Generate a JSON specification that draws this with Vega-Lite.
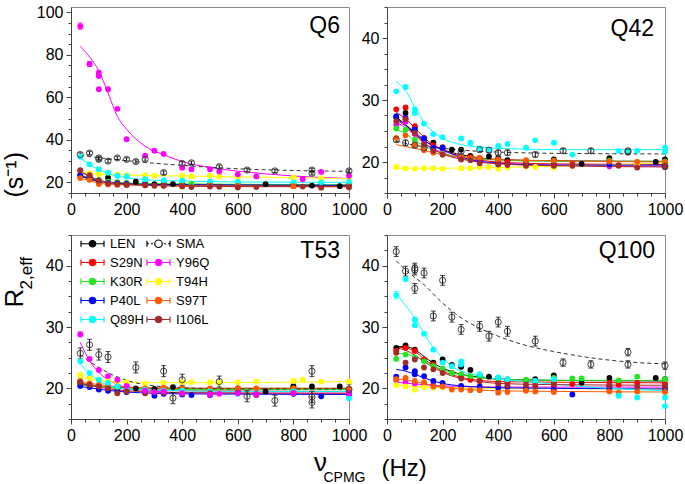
{
"$schema": "https://vega.github.io/schema/vega-lite/v6.json",
"padding": {"left": 0, "top": 3, "right": 2, "bottom": 0},
"background": "white",
"config": {
 "view": {"stroke": "#8a8a8a", "strokeWidth": 1},
 "axis": {"grid": false, "labelFont": "Liberation Sans", "labelFontSize": 16, "labelColor": "#000", "titleFont": "Liberation Sans", "titleFontWeight": "normal", "titleColor": "#000", "domainColor": "#444", "tickColor": "#444", "labelFlush": false, "labelPadding": 3, "labelOverlap": false, "format": "d"},
 "title": {"font": "Liberation Sans", "fontWeight": "normal", "color": "#000", "fontSize": 23, "anchor": "end", "orient": "top", "frame": "group", "baseline": "alphabetic", "offset": 0}
},
"datasets": {
"pts": [
{"p":"Q6","s":"LEN","x":33.3,"y":23.5},{"p":"Q6","s":"LEN","x":66.7,"y":22.5},{"p":"Q6","s":"LEN","x":100,"y":21},{"p":"Q6","s":"LEN","x":133.3,"y":22.2},{"p":"Q6","s":"LEN","x":166.7,"y":20},{"p":"Q6","s":"LEN","x":200,"y":19.5},{"p":"Q6","s":"LEN","x":233.3,"y":20.3},{"p":"Q6","s":"LEN","x":266.7,"y":19.3},{"p":"Q6","s":"LEN","x":300,"y":19.2},{"p":"Q6","s":"LEN","x":333.3,"y":19.3},{"p":"Q6","s":"LEN","x":366.7,"y":19.2},{"p":"Q6","s":"LEN","x":400,"y":19},{"p":"Q6","s":"LEN","x":500,"y":18.8},{"p":"Q6","s":"LEN","x":600,"y":18.6},{"p":"Q6","s":"LEN","x":700,"y":19.2},{"p":"Q6","s":"LEN","x":800,"y":19.1},{"p":"Q6","s":"LEN","x":866.7,"y":18.5},{"p":"Q6","s":"LEN","x":966.7,"y":18.2},{"p":"Q6","s":"LEN","x":1000,"y":18.8},
{"p":"Q6","s":"S29N","x":33.3,"y":25.4},{"p":"Q6","s":"S29N","x":66.7,"y":23.1},{"p":"Q6","s":"S29N","x":100,"y":20.5},{"p":"Q6","s":"S29N","x":133.3,"y":20},{"p":"Q6","s":"S29N","x":166.7,"y":19.5},{"p":"Q6","s":"S29N","x":200,"y":19.3},{"p":"Q6","s":"S29N","x":266.7,"y":19},{"p":"Q6","s":"S29N","x":333.3,"y":18.7},{"p":"Q6","s":"S29N","x":400,"y":18.5},{"p":"Q6","s":"S29N","x":500,"y":18.4},{"p":"Q6","s":"S29N","x":600,"y":18.3},{"p":"Q6","s":"S29N","x":800,"y":18.2},{"p":"Q6","s":"S29N","x":1000,"y":18.2},
{"p":"Q6","s":"K30R","x":33.3,"y":23.8},{"p":"Q6","s":"K30R","x":66.7,"y":22.5},{"p":"Q6","s":"K30R","x":100,"y":20.8},{"p":"Q6","s":"K30R","x":133.3,"y":20.3},{"p":"Q6","s":"K30R","x":166.7,"y":20},{"p":"Q6","s":"K30R","x":200,"y":19.8},{"p":"Q6","s":"K30R","x":266.7,"y":19.6},{"p":"Q6","s":"K30R","x":333.3,"y":19.4},{"p":"Q6","s":"K30R","x":400,"y":19.5},{"p":"Q6","s":"K30R","x":433.3,"y":19.3},{"p":"Q6","s":"K30R","x":500,"y":19.2},{"p":"Q6","s":"K30R","x":600,"y":19},{"p":"Q6","s":"K30R","x":800,"y":19},{"p":"Q6","s":"K30R","x":1000,"y":18.9},
{"p":"Q6","s":"T94H","x":33.3,"y":24.6},{"p":"Q6","s":"T94H","x":66.7,"y":24.3},{"p":"Q6","s":"T94H","x":100,"y":23.8},{"p":"Q6","s":"T94H","x":133.3,"y":24.6},{"p":"Q6","s":"T94H","x":166.7,"y":23.8},{"p":"Q6","s":"T94H","x":200,"y":23.4},{"p":"Q6","s":"T94H","x":266.7,"y":23.4},{"p":"Q6","s":"T94H","x":300,"y":23.1},{"p":"Q6","s":"T94H","x":400,"y":23.1},{"p":"Q6","s":"T94H","x":433.3,"y":22.8},{"p":"Q6","s":"T94H","x":500,"y":23.1},{"p":"Q6","s":"T94H","x":533.3,"y":22.8},{"p":"Q6","s":"T94H","x":600,"y":22.5},{"p":"Q6","s":"T94H","x":800,"y":22.2},{"p":"Q6","s":"T94H","x":900,"y":22},{"p":"Q6","s":"T94H","x":1000,"y":21.8},
{"p":"Q6","s":"P40L","x":33.3,"y":23.4},{"p":"Q6","s":"P40L","x":66.7,"y":22.4},{"p":"Q6","s":"P40L","x":100,"y":20.3},{"p":"Q6","s":"P40L","x":133.3,"y":19.8},{"p":"Q6","s":"P40L","x":166.7,"y":19.5},{"p":"Q6","s":"P40L","x":200,"y":19.3},{"p":"Q6","s":"P40L","x":266.7,"y":19.2},{"p":"Q6","s":"P40L","x":333.3,"y":19},{"p":"Q6","s":"P40L","x":400,"y":18.9},{"p":"Q6","s":"P40L","x":500,"y":18.8},{"p":"Q6","s":"P40L","x":600,"y":18.8},{"p":"Q6","s":"P40L","x":800,"y":18.6},{"p":"Q6","s":"P40L","x":900,"y":18.7},{"p":"Q6","s":"P40L","x":1000,"y":18.6},
{"p":"Q6","s":"Q89H","x":33.3,"y":32},{"p":"Q6","s":"Q89H","x":66.7,"y":28.5},{"p":"Q6","s":"Q89H","x":100,"y":26.2},{"p":"Q6","s":"Q89H","x":133.3,"y":24.6},{"p":"Q6","s":"Q89H","x":166.7,"y":23.1},{"p":"Q6","s":"Q89H","x":200,"y":22.8},{"p":"Q6","s":"Q89H","x":266.7,"y":21.5},{"p":"Q6","s":"Q89H","x":333.3,"y":21},{"p":"Q6","s":"Q89H","x":400,"y":20.8},{"p":"Q6","s":"Q89H","x":500,"y":20.5},{"p":"Q6","s":"Q89H","x":600,"y":20.2},{"p":"Q6","s":"Q89H","x":800,"y":20},{"p":"Q6","s":"Q89H","x":900,"y":20},{"p":"Q6","s":"Q89H","x":1000,"y":20.2},
{"p":"Q6","s":"S97T","x":33.3,"y":22},{"p":"Q6","s":"S97T","x":66.7,"y":21.2},{"p":"Q6","s":"S97T","x":100,"y":19.2},{"p":"Q6","s":"S97T","x":133.3,"y":19},{"p":"Q6","s":"S97T","x":166.7,"y":18.8},{"p":"Q6","s":"S97T","x":200,"y":18.8},{"p":"Q6","s":"S97T","x":266.7,"y":18.6},{"p":"Q6","s":"S97T","x":333.3,"y":18.5},{"p":"Q6","s":"S97T","x":400,"y":18.4},{"p":"Q6","s":"S97T","x":500,"y":18.4},{"p":"Q6","s":"S97T","x":600,"y":18.3},{"p":"Q6","s":"S97T","x":800,"y":18.2},{"p":"Q6","s":"S97T","x":1000,"y":18.1},
{"p":"Q6","s":"I106L","x":33.3,"y":25.7},{"p":"Q6","s":"I106L","x":66.7,"y":23.4},{"p":"Q6","s":"I106L","x":100,"y":20.8},{"p":"Q6","s":"I106L","x":133.3,"y":19.5},{"p":"Q6","s":"I106L","x":166.7,"y":19.2},{"p":"Q6","s":"I106L","x":200,"y":18.8},{"p":"Q6","s":"I106L","x":266.7,"y":18.6},{"p":"Q6","s":"I106L","x":300,"y":18.4},{"p":"Q6","s":"I106L","x":333.3,"y":18.4},{"p":"Q6","s":"I106L","x":400,"y":18.1},{"p":"Q6","s":"I106L","x":433.3,"y":17.8},{"p":"Q6","s":"I106L","x":500,"y":18},{"p":"Q6","s":"I106L","x":533.3,"y":17.9},{"p":"Q6","s":"I106L","x":600,"y":17.6},{"p":"Q6","s":"I106L","x":666.7,"y":17.8},{"p":"Q6","s":"I106L","x":833.3,"y":18},{"p":"Q6","s":"I106L","x":900,"y":17.5},{"p":"Q6","s":"I106L","x":1000,"y":17.7},
{"p":"Q6","s":"Y96Q","x":33.3,"y":93.5,"e":1.5},{"p":"Q6","s":"Y96Q","x":66.7,"y":75.7,"e":1.2},{"p":"Q6","s":"Y96Q","x":100,"y":71.5,"e":1.2},{"p":"Q6","s":"Y96Q","x":100,"y":70},{"p":"Q6","s":"Y96Q","x":100,"y":63.8},{"p":"Q6","s":"Y96Q","x":133.3,"y":63.8},{"p":"Q6","s":"Y96Q","x":166.7,"y":54.6},{"p":"Q6","s":"Y96Q","x":200,"y":40.3},{"p":"Q6","s":"Y96Q","x":266.7,"y":32.6},{"p":"Q6","s":"Y96Q","x":300,"y":34.9},{"p":"Q6","s":"Y96Q","x":333.3,"y":33.4},{"p":"Q6","s":"Y96Q","x":400,"y":26.9},{"p":"Q6","s":"Y96Q","x":433.3,"y":26.2},{"p":"Q6","s":"Y96Q","x":500,"y":26.2},{"p":"Q6","s":"Y96Q","x":533.3,"y":25.1},{"p":"Q6","s":"Y96Q","x":600,"y":23.8},{"p":"Q6","s":"Y96Q","x":666.7,"y":22.8},{"p":"Q6","s":"Y96Q","x":833.3,"y":21.5},{"p":"Q6","s":"Y96Q","x":900,"y":24.9},{"p":"Q6","s":"Y96Q","x":1000,"y":23.1},
{"p":"Q6","s":"SMA","x":33.3,"y":33.1,"e":0.8},{"p":"Q6","s":"SMA","x":66.7,"y":33.8,"e":0.8},{"p":"Q6","s":"SMA","x":100,"y":31.5,"e":0.8},{"p":"Q6","s":"SMA","x":100,"y":30.8,"e":0.8},{"p":"Q6","s":"SMA","x":133.3,"y":30,"e":0.8},{"p":"Q6","s":"SMA","x":166.7,"y":31.5,"e":0.8},{"p":"Q6","s":"SMA","x":200,"y":30.8,"e":0.8},{"p":"Q6","s":"SMA","x":233.3,"y":29.8,"e":0.8},{"p":"Q6","s":"SMA","x":266.7,"y":30.8,"e":0.8},{"p":"Q6","s":"SMA","x":333.3,"y":24.6,"e":0.8},{"p":"Q6","s":"SMA","x":400,"y":28.9,"e":0.8},{"p":"Q6","s":"SMA","x":433.3,"y":29.2,"e":0.8},{"p":"Q6","s":"SMA","x":533.3,"y":27.4,"e":0.8},{"p":"Q6","s":"SMA","x":633.3,"y":25.8,"e":0.8},{"p":"Q6","s":"SMA","x":733.3,"y":25.4,"e":0.8},{"p":"Q6","s":"SMA","x":866.7,"y":25.8,"e":0.8},{"p":"Q6","s":"SMA","x":866.7,"y":24.3,"e":0.8},{"p":"Q6","s":"SMA","x":1000,"y":25.4,"e":0.8},

{"p":"Q42","s":"LEN","x":33.3,"y":27.2},{"p":"Q42","s":"LEN","x":66.7,"y":27.9},{"p":"Q42","s":"LEN","x":100,"y":25.5},{"p":"Q42","s":"LEN","x":133.3,"y":23.6},{"p":"Q42","s":"LEN","x":166.7,"y":23.1},{"p":"Q42","s":"LEN","x":200,"y":22.2},{"p":"Q42","s":"LEN","x":233.3,"y":22},{"p":"Q42","s":"LEN","x":266.7,"y":22},{"p":"Q42","s":"LEN","x":300,"y":21},{"p":"Q42","s":"LEN","x":366.7,"y":20.9},{"p":"Q42","s":"LEN","x":400,"y":20.6},{"p":"Q42","s":"LEN","x":433.3,"y":20.3},{"p":"Q42","s":"LEN","x":500,"y":20},{"p":"Q42","s":"LEN","x":600,"y":20.4},{"p":"Q42","s":"LEN","x":700,"y":19.7},{"p":"Q42","s":"LEN","x":800,"y":20.6},{"p":"Q42","s":"LEN","x":800,"y":20.2},{"p":"Q42","s":"LEN","x":966.7,"y":20},{"p":"Q42","s":"LEN","x":1000,"y":20.4},
{"p":"Q42","s":"S29N","x":33.3,"y":28.5},{"p":"Q42","s":"S29N","x":66.7,"y":28.8},{"p":"Q42","s":"S29N","x":100,"y":25.8},{"p":"Q42","s":"S29N","x":133.3,"y":23.9},{"p":"Q42","s":"S29N","x":166.7,"y":22.7},{"p":"Q42","s":"S29N","x":200,"y":22.4},{"p":"Q42","s":"S29N","x":266.7,"y":20.9},{"p":"Q42","s":"S29N","x":300,"y":20.8},{"p":"Q42","s":"S29N","x":333.3,"y":20.5},{"p":"Q42","s":"S29N","x":400,"y":20.1},{"p":"Q42","s":"S29N","x":433.3,"y":20},{"p":"Q42","s":"S29N","x":500,"y":19.8},{"p":"Q42","s":"S29N","x":600,"y":19.7},{"p":"Q42","s":"S29N","x":666.7,"y":19.7},{"p":"Q42","s":"S29N","x":833.3,"y":19.5},{"p":"Q42","s":"S29N","x":900,"y":19.3},{"p":"Q42","s":"S29N","x":1000,"y":19.6},
{"p":"Q42","s":"Y96Q","x":33.3,"y":26},{"p":"Q42","s":"Y96Q","x":66.7,"y":26.5},{"p":"Q42","s":"Y96Q","x":100,"y":24.5},{"p":"Q42","s":"Y96Q","x":133.3,"y":23},{"p":"Q42","s":"Y96Q","x":166.7,"y":22},{"p":"Q42","s":"Y96Q","x":200,"y":21.5},{"p":"Q42","s":"Y96Q","x":266.7,"y":20.5},{"p":"Q42","s":"Y96Q","x":333.3,"y":20.2},{"p":"Q42","s":"Y96Q","x":400,"y":19.8},{"p":"Q42","s":"Y96Q","x":500,"y":19.6},{"p":"Q42","s":"Y96Q","x":600,"y":19.5},{"p":"Q42","s":"Y96Q","x":800,"y":19.3},{"p":"Q42","s":"Y96Q","x":1000,"y":19.3},
{"p":"Q42","s":"K30R","x":33.3,"y":25.4},{"p":"Q42","s":"K30R","x":66.7,"y":25.2},{"p":"Q42","s":"K30R","x":100,"y":23.6},{"p":"Q42","s":"K30R","x":133.3,"y":22.5},{"p":"Q42","s":"K30R","x":166.7,"y":22},{"p":"Q42","s":"K30R","x":200,"y":21.3},{"p":"Q42","s":"K30R","x":266.7,"y":20.8},{"p":"Q42","s":"K30R","x":300,"y":20.5},{"p":"Q42","s":"K30R","x":333.3,"y":20.3},{"p":"Q42","s":"K30R","x":400,"y":20.3},{"p":"Q42","s":"K30R","x":500,"y":20.2},{"p":"Q42","s":"K30R","x":600,"y":20.1},{"p":"Q42","s":"K30R","x":800,"y":20.2},{"p":"Q42","s":"K30R","x":900,"y":20},{"p":"Q42","s":"K30R","x":1000,"y":20.1},
{"p":"Q42","s":"T94H","x":33.3,"y":19.2},{"p":"Q42","s":"T94H","x":66.7,"y":19},{"p":"Q42","s":"T94H","x":100,"y":18.9},{"p":"Q42","s":"T94H","x":133.3,"y":19},{"p":"Q42","s":"T94H","x":166.7,"y":19},{"p":"Q42","s":"T94H","x":200,"y":18.9},{"p":"Q42","s":"T94H","x":266.7,"y":19},{"p":"Q42","s":"T94H","x":300,"y":19},{"p":"Q42","s":"T94H","x":333.3,"y":19.2},{"p":"Q42","s":"T94H","x":366.7,"y":19.2},{"p":"Q42","s":"T94H","x":400,"y":18.9},{"p":"Q42","s":"T94H","x":433.3,"y":19.1},{"p":"Q42","s":"T94H","x":500,"y":19.3},{"p":"Q42","s":"T94H","x":533.3,"y":19.2},{"p":"Q42","s":"T94H","x":600,"y":19.1},{"p":"Q42","s":"T94H","x":666.7,"y":19.4},{"p":"Q42","s":"T94H","x":800,"y":19.6},{"p":"Q42","s":"T94H","x":900,"y":19.7},{"p":"Q42","s":"T94H","x":1000,"y":19.8},
{"p":"Q42","s":"P40L","x":33.3,"y":27.4},{"p":"Q42","s":"P40L","x":66.7,"y":27.1},{"p":"Q42","s":"P40L","x":100,"y":25.2},{"p":"Q42","s":"P40L","x":133.3,"y":23.8},{"p":"Q42","s":"P40L","x":166.7,"y":22.3},{"p":"Q42","s":"P40L","x":200,"y":22.3},{"p":"Q42","s":"P40L","x":266.7,"y":20.7},{"p":"Q42","s":"P40L","x":333.3,"y":20.2},{"p":"Q42","s":"P40L","x":400,"y":19.8},{"p":"Q42","s":"P40L","x":500,"y":19.6},{"p":"Q42","s":"P40L","x":600,"y":19.5},{"p":"Q42","s":"P40L","x":800,"y":19.6},{"p":"Q42","s":"P40L","x":1000,"y":19.5},
{"p":"Q42","s":"S97T","x":33.3,"y":23.9},{"p":"Q42","s":"S97T","x":66.7,"y":24.3},{"p":"Q42","s":"S97T","x":100,"y":22.8},{"p":"Q42","s":"S97T","x":133.3,"y":21.9},{"p":"Q42","s":"S97T","x":166.7,"y":21.5},{"p":"Q42","s":"S97T","x":200,"y":21.2},{"p":"Q42","s":"S97T","x":266.7,"y":20.8},{"p":"Q42","s":"S97T","x":300,"y":20.6},{"p":"Q42","s":"S97T","x":333.3,"y":20.7},{"p":"Q42","s":"S97T","x":400,"y":20.4},{"p":"Q42","s":"S97T","x":500,"y":20.3},{"p":"Q42","s":"S97T","x":600,"y":20.2},{"p":"Q42","s":"S97T","x":800,"y":20.1},{"p":"Q42","s":"S97T","x":900,"y":20},{"p":"Q42","s":"S97T","x":1000,"y":20},
{"p":"Q42","s":"Q89H","x":33.3,"y":31.4},{"p":"Q42","s":"Q89H","x":66.7,"y":32.1},{"p":"Q42","s":"Q89H","x":100,"y":28.5},{"p":"Q42","s":"Q89H","x":100,"y":27.9},{"p":"Q42","s":"Q89H","x":133.3,"y":26.2},{"p":"Q42","s":"Q89H","x":166.7,"y":24.5},{"p":"Q42","s":"Q89H","x":200,"y":24},{"p":"Q42","s":"Q89H","x":266.7,"y":23.8},{"p":"Q42","s":"Q89H","x":300,"y":23.1},{"p":"Q42","s":"Q89H","x":333.3,"y":22.2},{"p":"Q42","s":"Q89H","x":366.7,"y":22},{"p":"Q42","s":"Q89H","x":400,"y":22.6},{"p":"Q42","s":"Q89H","x":433.3,"y":22.9},{"p":"Q42","s":"Q89H","x":500,"y":22.3},{"p":"Q42","s":"Q89H","x":533.3,"y":23.5},{"p":"Q42","s":"Q89H","x":600,"y":23.1},{"p":"Q42","s":"Q89H","x":666.7,"y":21.2},{"p":"Q42","s":"Q89H","x":833.3,"y":21.8},{"p":"Q42","s":"Q89H","x":866.7,"y":21.8},{"p":"Q42","s":"Q89H","x":900,"y":21.8},{"p":"Q42","s":"Q89H","x":1000,"y":22.3},{"p":"Q42","s":"Q89H","x":1000,"y":21.7},
{"p":"Q42","s":"I106L","x":33.3,"y":26.6},{"p":"Q42","s":"I106L","x":66.7,"y":26.9},{"p":"Q42","s":"I106L","x":100,"y":24.7},{"p":"Q42","s":"I106L","x":133.3,"y":22.8},{"p":"Q42","s":"I106L","x":166.7,"y":21.8},{"p":"Q42","s":"I106L","x":200,"y":21.2},{"p":"Q42","s":"I106L","x":266.7,"y":20.4},{"p":"Q42","s":"I106L","x":300,"y":20.3},{"p":"Q42","s":"I106L","x":333.3,"y":19.8},{"p":"Q42","s":"I106L","x":400,"y":19.6},{"p":"Q42","s":"I106L","x":433.3,"y":19.5},{"p":"Q42","s":"I106L","x":500,"y":19.4},{"p":"Q42","s":"I106L","x":600,"y":19.4},{"p":"Q42","s":"I106L","x":666.7,"y":19.4},{"p":"Q42","s":"I106L","x":833.3,"y":19.4},{"p":"Q42","s":"I106L","x":900,"y":19.1},{"p":"Q42","s":"I106L","x":1000,"y":19.2},
{"p":"Q42","s":"SMA","x":33.3,"y":23.6,"e":0.4},{"p":"Q42","s":"SMA","x":66.7,"y":23.1,"e":0.4},{"p":"Q42","s":"SMA","x":100,"y":22.7,"e":0.4},{"p":"Q42","s":"SMA","x":133.3,"y":22.3,"e":0.4},{"p":"Q42","s":"SMA","x":266.7,"y":21.7,"e":0.4},{"p":"Q42","s":"SMA","x":333.3,"y":22,"e":0.4},{"p":"Q42","s":"SMA","x":366.7,"y":21.9,"e":0.4},{"p":"Q42","s":"SMA","x":400,"y":21.5,"e":0.4},{"p":"Q42","s":"SMA","x":433.3,"y":21.5,"e":0.4},{"p":"Q42","s":"SMA","x":533.3,"y":21.2,"e":0.4},{"p":"Q42","s":"SMA","x":633.3,"y":21.8,"e":0.4},{"p":"Q42","s":"SMA","x":733.3,"y":21.8,"e":0.4},{"p":"Q42","s":"SMA","x":866.7,"y":21.6,"e":0.4},{"p":"Q42","s":"SMA","x":866.7,"y":21.8,"e":0.4},{"p":"Q42","s":"SMA","x":1000,"y":19.3,"e":0.4},

{"p":"T53","s":"LEN","x":33.3,"y":20.8},{"p":"T53","s":"LEN","x":66.7,"y":20.6},{"p":"T53","s":"LEN","x":100,"y":20.4},{"p":"T53","s":"LEN","x":133.3,"y":20.2},{"p":"T53","s":"LEN","x":166.7,"y":20.1},{"p":"T53","s":"LEN","x":233.3,"y":20},{"p":"T53","s":"LEN","x":300,"y":19.9},{"p":"T53","s":"LEN","x":366.7,"y":20.2},{"p":"T53","s":"LEN","x":400,"y":20},{"p":"T53","s":"LEN","x":500,"y":19.9},{"p":"T53","s":"LEN","x":600,"y":20},{"p":"T53","s":"LEN","x":700,"y":19.5},{"p":"T53","s":"LEN","x":800,"y":20.4},{"p":"T53","s":"LEN","x":800,"y":20.1},{"p":"T53","s":"LEN","x":866.7,"y":20.3},{"p":"T53","s":"LEN","x":966.7,"y":20.3},{"p":"T53","s":"LEN","x":1000,"y":19.6},
{"p":"T53","s":"S29N","x":33.3,"y":21},{"p":"T53","s":"S29N","x":66.7,"y":20.6},{"p":"T53","s":"S29N","x":100,"y":20.3},{"p":"T53","s":"S29N","x":133.3,"y":20},{"p":"T53","s":"S29N","x":166.7,"y":19.8},{"p":"T53","s":"S29N","x":200,"y":19.8},{"p":"T53","s":"S29N","x":266.7,"y":19.6},{"p":"T53","s":"S29N","x":333.3,"y":19.6},{"p":"T53","s":"S29N","x":400,"y":19.5},{"p":"T53","s":"S29N","x":500,"y":19.6},{"p":"T53","s":"S29N","x":600,"y":19.5},{"p":"T53","s":"S29N","x":800,"y":19.6},{"p":"T53","s":"S29N","x":1000,"y":19.5},
{"p":"T53","s":"K30R","x":33.3,"y":20.6},{"p":"T53","s":"K30R","x":66.7,"y":20.5},{"p":"T53","s":"K30R","x":100,"y":20.2},{"p":"T53","s":"K30R","x":133.3,"y":20.1},{"p":"T53","s":"K30R","x":166.7,"y":20},{"p":"T53","s":"K30R","x":200,"y":20},{"p":"T53","s":"K30R","x":266.7,"y":19.9},{"p":"T53","s":"K30R","x":333.3,"y":19.8},{"p":"T53","s":"K30R","x":400,"y":19.8},{"p":"T53","s":"K30R","x":500,"y":19.8},{"p":"T53","s":"K30R","x":600,"y":19.9},{"p":"T53","s":"K30R","x":800,"y":19.9},{"p":"T53","s":"K30R","x":1000,"y":19.8},
{"p":"T53","s":"T94H","x":33.3,"y":22.2},{"p":"T53","s":"T94H","x":66.7,"y":21.7},{"p":"T53","s":"T94H","x":100,"y":21.4},{"p":"T53","s":"T94H","x":133.3,"y":21.2},{"p":"T53","s":"T94H","x":166.7,"y":21},{"p":"T53","s":"T94H","x":200,"y":21},{"p":"T53","s":"T94H","x":266.7,"y":20.8},{"p":"T53","s":"T94H","x":333.3,"y":20.9},{"p":"T53","s":"T94H","x":400,"y":21},{"p":"T53","s":"T94H","x":433.3,"y":21},{"p":"T53","s":"T94H","x":500,"y":21},{"p":"T53","s":"T94H","x":533.3,"y":20.9},{"p":"T53","s":"T94H","x":600,"y":21},{"p":"T53","s":"T94H","x":666.7,"y":21.1},{"p":"T53","s":"T94H","x":800,"y":21.2},{"p":"T53","s":"T94H","x":833.3,"y":21.4},{"p":"T53","s":"T94H","x":900,"y":21.1},{"p":"T53","s":"T94H","x":1000,"y":21.1},
{"p":"T53","s":"P40L","x":33.3,"y":20.4},{"p":"T53","s":"P40L","x":66.7,"y":20.2},{"p":"T53","s":"P40L","x":100,"y":19.8},{"p":"T53","s":"P40L","x":133.3,"y":19.6},{"p":"T53","s":"P40L","x":166.7,"y":19.5},{"p":"T53","s":"P40L","x":200,"y":19.4},{"p":"T53","s":"P40L","x":266.7,"y":19.3},{"p":"T53","s":"P40L","x":300,"y":18.8},{"p":"T53","s":"P40L","x":333.3,"y":19.1},{"p":"T53","s":"P40L","x":400,"y":19},{"p":"T53","s":"P40L","x":433.3,"y":18.9},{"p":"T53","s":"P40L","x":500,"y":18.9},{"p":"T53","s":"P40L","x":600,"y":19.2},{"p":"T53","s":"P40L","x":666.7,"y":19},{"p":"T53","s":"P40L","x":800,"y":19.1},{"p":"T53","s":"P40L","x":900,"y":18.7},{"p":"T53","s":"P40L","x":1000,"y":19},
{"p":"T53","s":"S97T","x":33.3,"y":21.2},{"p":"T53","s":"S97T","x":66.7,"y":20.8},{"p":"T53","s":"S97T","x":100,"y":20.6},{"p":"T53","s":"S97T","x":133.3,"y":20.5},{"p":"T53","s":"S97T","x":166.7,"y":20.3},{"p":"T53","s":"S97T","x":200,"y":20.2},{"p":"T53","s":"S97T","x":266.7,"y":20},{"p":"T53","s":"S97T","x":333.3,"y":20.1},{"p":"T53","s":"S97T","x":400,"y":20},{"p":"T53","s":"S97T","x":500,"y":20},{"p":"T53","s":"S97T","x":600,"y":20},{"p":"T53","s":"S97T","x":666.7,"y":20},{"p":"T53","s":"S97T","x":800,"y":20},{"p":"T53","s":"S97T","x":1000,"y":20},
{"p":"T53","s":"Q89H","x":33.3,"y":24.4},{"p":"T53","s":"Q89H","x":66.7,"y":22.5},{"p":"T53","s":"Q89H","x":100,"y":21.4},{"p":"T53","s":"Q89H","x":133.3,"y":20.9},{"p":"T53","s":"Q89H","x":166.7,"y":20.3},{"p":"T53","s":"Q89H","x":200,"y":20},{"p":"T53","s":"Q89H","x":266.7,"y":19.8},{"p":"T53","s":"Q89H","x":333.3,"y":19.6},{"p":"T53","s":"Q89H","x":400,"y":19.6},{"p":"T53","s":"Q89H","x":500,"y":19.5},{"p":"T53","s":"Q89H","x":600,"y":19.1},{"p":"T53","s":"Q89H","x":800,"y":19.5},{"p":"T53","s":"Q89H","x":1000,"y":18.4},
{"p":"T53","s":"I106L","x":33.3,"y":21},{"p":"T53","s":"I106L","x":66.7,"y":20.6},{"p":"T53","s":"I106L","x":100,"y":20.3},{"p":"T53","s":"I106L","x":133.3,"y":20},{"p":"T53","s":"I106L","x":166.7,"y":19.2},{"p":"T53","s":"I106L","x":200,"y":19.5},{"p":"T53","s":"I106L","x":266.7,"y":19.2},{"p":"T53","s":"I106L","x":333.3,"y":19.3},{"p":"T53","s":"I106L","x":400,"y":19.1},{"p":"T53","s":"I106L","x":500,"y":19.2},{"p":"T53","s":"I106L","x":600,"y":19.3},{"p":"T53","s":"I106L","x":666.7,"y":18.9},{"p":"T53","s":"I106L","x":800,"y":19.2},{"p":"T53","s":"I106L","x":1000,"y":19.3},
{"p":"T53","s":"Y96Q","x":33.3,"y":28.8,"e":0.4},{"p":"T53","s":"Y96Q","x":66.7,"y":24.8},{"p":"T53","s":"Y96Q","x":100,"y":23},{"p":"T53","s":"Y96Q","x":133.3,"y":22},{"p":"T53","s":"Y96Q","x":166.7,"y":21.4},{"p":"T53","s":"Y96Q","x":200,"y":20.4},{"p":"T53","s":"Y96Q","x":266.7,"y":19.6},{"p":"T53","s":"Y96Q","x":300,"y":19.4},{"p":"T53","s":"Y96Q","x":333.3,"y":19.5},{"p":"T53","s":"Y96Q","x":400,"y":19.2},{"p":"T53","s":"Y96Q","x":500,"y":19},{"p":"T53","s":"Y96Q","x":533.3,"y":19.1},{"p":"T53","s":"Y96Q","x":600,"y":19.2},{"p":"T53","s":"Y96Q","x":666.7,"y":19},{"p":"T53","s":"Y96Q","x":800,"y":19.2},{"p":"T53","s":"Y96Q","x":1000,"y":19.2},
{"p":"T53","s":"SMA","x":33.3,"y":25.7,"e":0.9},{"p":"T53","s":"SMA","x":66.7,"y":27.1,"e":0.9},{"p":"T53","s":"SMA","x":100,"y":25.5,"e":0.9},{"p":"T53","s":"SMA","x":133.3,"y":25.1,"e":0.9},{"p":"T53","s":"SMA","x":233.3,"y":23.4,"e":0.9},{"p":"T53","s":"SMA","x":333.3,"y":22.8,"e":0.9},{"p":"T53","s":"SMA","x":366.7,"y":18.4,"e":0.9},{"p":"T53","s":"SMA","x":400,"y":21.4,"e":0.9},{"p":"T53","s":"SMA","x":533.3,"y":21.1,"e":0.9},{"p":"T53","s":"SMA","x":633.3,"y":18.7,"e":0.9},{"p":"T53","s":"SMA","x":733.3,"y":18,"e":0.9},{"p":"T53","s":"SMA","x":866.7,"y":22.8,"e":0.9},{"p":"T53","s":"SMA","x":866.7,"y":18.6,"e":0.9},{"p":"T53","s":"SMA","x":866.7,"y":17.7,"e":0.9},{"p":"T53","s":"SMA","x":1000,"y":19.8,"e":0.9},

{"p":"Q100","s":"LEN","x":33.3,"y":26.6},{"p":"Q100","s":"LEN","x":66.7,"y":27},{"p":"Q100","s":"LEN","x":100,"y":26.3},{"p":"Q100","s":"LEN","x":133.3,"y":24.6},{"p":"Q100","s":"LEN","x":166.7,"y":24.2},{"p":"Q100","s":"LEN","x":200,"y":24.7},{"p":"Q100","s":"LEN","x":233.3,"y":23.8},{"p":"Q100","s":"LEN","x":266.7,"y":23.5},{"p":"Q100","s":"LEN","x":300,"y":23},{"p":"Q100","s":"LEN","x":333.3,"y":22.2},{"p":"Q100","s":"LEN","x":366.7,"y":21.9},{"p":"Q100","s":"LEN","x":400,"y":21.7},{"p":"Q100","s":"LEN","x":433.3,"y":21.4},{"p":"Q100","s":"LEN","x":533.3,"y":21.5},{"p":"Q100","s":"LEN","x":600,"y":22.1},{"p":"Q100","s":"LEN","x":700,"y":20.9},{"p":"Q100","s":"LEN","x":800,"y":21.7},{"p":"Q100","s":"LEN","x":800,"y":20.4},{"p":"Q100","s":"LEN","x":966.7,"y":21.7},{"p":"Q100","s":"LEN","x":1000,"y":21.5},
{"p":"Q100","s":"S29N","x":33.3,"y":26.1},{"p":"Q100","s":"S29N","x":66.7,"y":26.6},{"p":"Q100","s":"S29N","x":100,"y":26.1},{"p":"Q100","s":"S29N","x":133.3,"y":24.7},{"p":"Q100","s":"S29N","x":166.7,"y":23.9},{"p":"Q100","s":"S29N","x":200,"y":23.1},{"p":"Q100","s":"S29N","x":233.3,"y":22.5},{"p":"Q100","s":"S29N","x":266.7,"y":22},{"p":"Q100","s":"S29N","x":300,"y":21.4},{"p":"Q100","s":"S29N","x":333.3,"y":21.2},{"p":"Q100","s":"S29N","x":400,"y":21},{"p":"Q100","s":"S29N","x":433.3,"y":21},{"p":"Q100","s":"S29N","x":500,"y":21.3},{"p":"Q100","s":"S29N","x":533.3,"y":21},{"p":"Q100","s":"S29N","x":600,"y":20.9},{"p":"Q100","s":"S29N","x":666.7,"y":20.7},{"p":"Q100","s":"S29N","x":800,"y":20.9},{"p":"Q100","s":"S29N","x":833.3,"y":20.6},{"p":"Q100","s":"S29N","x":900,"y":20.9},{"p":"Q100","s":"S29N","x":1000,"y":20.8},
{"p":"Q100","s":"Y96Q","x":33.3,"y":21.3},{"p":"Q100","s":"Y96Q","x":66.7,"y":21},{"p":"Q100","s":"Y96Q","x":100,"y":20.8},{"p":"Q100","s":"Y96Q","x":133.3,"y":20.6},{"p":"Q100","s":"Y96Q","x":166.7,"y":20.5},{"p":"Q100","s":"Y96Q","x":200,"y":20.3},{"p":"Q100","s":"Y96Q","x":266.7,"y":20.2},{"p":"Q100","s":"Y96Q","x":333.3,"y":20.1},{"p":"Q100","s":"Y96Q","x":400,"y":20.2},{"p":"Q100","s":"Y96Q","x":500,"y":20.1},{"p":"Q100","s":"Y96Q","x":600,"y":20.2},{"p":"Q100","s":"Y96Q","x":800,"y":20.2},{"p":"Q100","s":"Y96Q","x":1000,"y":20.2},
{"p":"Q100","s":"K30R","x":33.3,"y":24.8},{"p":"Q100","s":"K30R","x":66.7,"y":25.5},{"p":"Q100","s":"K30R","x":100,"y":25},{"p":"Q100","s":"K30R","x":133.3,"y":24.4},{"p":"Q100","s":"K30R","x":166.7,"y":23.6},{"p":"Q100","s":"K30R","x":200,"y":23.2},{"p":"Q100","s":"K30R","x":233.3,"y":22.5},{"p":"Q100","s":"K30R","x":266.7,"y":22.3},{"p":"Q100","s":"K30R","x":300,"y":22},{"p":"Q100","s":"K30R","x":333.3,"y":21.8},{"p":"Q100","s":"K30R","x":400,"y":21.6},{"p":"Q100","s":"K30R","x":433.3,"y":21.5},{"p":"Q100","s":"K30R","x":500,"y":21.4},{"p":"Q100","s":"K30R","x":533.3,"y":21.2},{"p":"Q100","s":"K30R","x":600,"y":21.7},{"p":"Q100","s":"K30R","x":666.7,"y":21.6},{"p":"Q100","s":"K30R","x":700,"y":21.6},{"p":"Q100","s":"K30R","x":833.3,"y":21.3},{"p":"Q100","s":"K30R","x":900,"y":21.9},{"p":"Q100","s":"K30R","x":1000,"y":21.5},
{"p":"Q100","s":"T94H","x":33.3,"y":20.5},{"p":"Q100","s":"T94H","x":66.7,"y":20.3},{"p":"Q100","s":"T94H","x":100,"y":19.8},{"p":"Q100","s":"T94H","x":133.3,"y":20.2},{"p":"Q100","s":"T94H","x":166.7,"y":20.1},{"p":"Q100","s":"T94H","x":200,"y":20.2},{"p":"Q100","s":"T94H","x":266.7,"y":20},{"p":"Q100","s":"T94H","x":333.3,"y":19.9},{"p":"Q100","s":"T94H","x":400,"y":20},{"p":"Q100","s":"T94H","x":500,"y":19.9},{"p":"Q100","s":"T94H","x":600,"y":19.8},{"p":"Q100","s":"T94H","x":800,"y":19.8},{"p":"Q100","s":"T94H","x":1000,"y":19.9},
{"p":"Q100","s":"P40L","x":33.3,"y":21.9},{"p":"Q100","s":"P40L","x":66.7,"y":23.4},{"p":"Q100","s":"P40L","x":100,"y":22.8},{"p":"Q100","s":"P40L","x":100,"y":22.3},{"p":"Q100","s":"P40L","x":133.3,"y":22},{"p":"Q100","s":"P40L","x":166.7,"y":21.2},{"p":"Q100","s":"P40L","x":200,"y":20.9},{"p":"Q100","s":"P40L","x":266.7,"y":20.4},{"p":"Q100","s":"P40L","x":333.3,"y":20.3},{"p":"Q100","s":"P40L","x":400,"y":20.1},{"p":"Q100","s":"P40L","x":433.3,"y":20.2},{"p":"Q100","s":"P40L","x":500,"y":20},{"p":"Q100","s":"P40L","x":600,"y":19.9},{"p":"Q100","s":"P40L","x":666.7,"y":19},{"p":"Q100","s":"P40L","x":800,"y":19.9},{"p":"Q100","s":"P40L","x":1000,"y":19.9},
{"p":"Q100","s":"S97T","x":33.3,"y":21.5},{"p":"Q100","s":"S97T","x":66.7,"y":21.7},{"p":"Q100","s":"S97T","x":100,"y":21.2},{"p":"Q100","s":"S97T","x":133.3,"y":21},{"p":"Q100","s":"S97T","x":166.7,"y":20.3},{"p":"Q100","s":"S97T","x":200,"y":20.3},{"p":"Q100","s":"S97T","x":233.3,"y":19.8},{"p":"Q100","s":"S97T","x":266.7,"y":19.8},{"p":"Q100","s":"S97T","x":300,"y":19.7},{"p":"Q100","s":"S97T","x":333.3,"y":19.7},{"p":"Q100","s":"S97T","x":400,"y":19.3},{"p":"Q100","s":"S97T","x":433.3,"y":19.4},{"p":"Q100","s":"S97T","x":500,"y":19.6},{"p":"Q100","s":"S97T","x":533.3,"y":19.5},{"p":"Q100","s":"S97T","x":600,"y":19.4},{"p":"Q100","s":"S97T","x":800,"y":19.5},{"p":"Q100","s":"S97T","x":833.3,"y":19.3},{"p":"Q100","s":"S97T","x":900,"y":19.5},{"p":"Q100","s":"S97T","x":1000,"y":19.4},
{"p":"Q100","s":"Q89H","x":33.3,"y":35.2,"e":0.6},{"p":"Q100","s":"Q89H","x":66.7,"y":37.8},{"p":"Q100","s":"Q89H","x":100,"y":31.2},{"p":"Q100","s":"Q89H","x":100,"y":30.3},{"p":"Q100","s":"Q89H","x":133.3,"y":28.9},{"p":"Q100","s":"Q89H","x":166.7,"y":26.3},{"p":"Q100","s":"Q89H","x":200,"y":24.2},{"p":"Q100","s":"Q89H","x":233.3,"y":23.6},{"p":"Q100","s":"Q89H","x":266.7,"y":24.4},{"p":"Q100","s":"Q89H","x":266.7,"y":23.9},{"p":"Q100","s":"Q89H","x":333.3,"y":22.3},{"p":"Q100","s":"Q89H","x":400,"y":21.8},{"p":"Q100","s":"Q89H","x":433.3,"y":21.5},{"p":"Q100","s":"Q89H","x":533.3,"y":21.2},{"p":"Q100","s":"Q89H","x":600,"y":21.5},{"p":"Q100","s":"Q89H","x":833.3,"y":18.8},{"p":"Q100","s":"Q89H","x":900,"y":18.5},{"p":"Q100","s":"Q89H","x":1000,"y":18.5},{"p":"Q100","s":"Q89H","x":1000,"y":17.1},
{"p":"Q100","s":"I106L","x":33.3,"y":25.8},{"p":"Q100","s":"I106L","x":66.7,"y":24.2},{"p":"Q100","s":"I106L","x":100,"y":24.7},{"p":"Q100","s":"I106L","x":133.3,"y":23.4},{"p":"Q100","s":"I106L","x":166.7,"y":23.1},{"p":"Q100","s":"I106L","x":200,"y":22.5},{"p":"Q100","s":"I106L","x":266.7,"y":21.6},{"p":"Q100","s":"I106L","x":333.3,"y":21.2},{"p":"Q100","s":"I106L","x":400,"y":20.8},{"p":"Q100","s":"I106L","x":433.3,"y":20.5},{"p":"Q100","s":"I106L","x":500,"y":20.6},{"p":"Q100","s":"I106L","x":533.3,"y":20.4},{"p":"Q100","s":"I106L","x":600,"y":20.6},{"p":"Q100","s":"I106L","x":800,"y":20.5},{"p":"Q100","s":"I106L","x":900,"y":20.3},{"p":"Q100","s":"I106L","x":1000,"y":20.4},
{"p":"Q100","s":"SMA","x":33.3,"y":42.3,"e":0.8},{"p":"Q100","s":"SMA","x":66.7,"y":39.1,"e":0.8},{"p":"Q100","s":"SMA","x":100,"y":39.3,"e":0.8},{"p":"Q100","s":"SMA","x":100,"y":39.6,"e":0.8},{"p":"Q100","s":"SMA","x":100,"y":36.3,"e":0.8},{"p":"Q100","s":"SMA","x":133.3,"y":38.8,"e":0.8},{"p":"Q100","s":"SMA","x":166.7,"y":31.8,"e":0.8},{"p":"Q100","s":"SMA","x":200,"y":37.6,"e":0.8},{"p":"Q100","s":"SMA","x":233.3,"y":31.6,"e":0.8},{"p":"Q100","s":"SMA","x":266.7,"y":29.6,"e":0.8},{"p":"Q100","s":"SMA","x":333.3,"y":30.1,"e":0.8},{"p":"Q100","s":"SMA","x":366.7,"y":28.5,"e":0.8},{"p":"Q100","s":"SMA","x":400,"y":30.8,"e":0.8},{"p":"Q100","s":"SMA","x":433.3,"y":29.3,"e":0.8},{"p":"Q100","s":"SMA","x":533.3,"y":27.7,"e":0.8},{"p":"Q100","s":"SMA","x":633.3,"y":24.2,"e":0.6},{"p":"Q100","s":"SMA","x":733.3,"y":23.9,"e":0.6},{"p":"Q100","s":"SMA","x":866.7,"y":25.9,"e":0.6},{"p":"Q100","s":"SMA","x":866.7,"y":23.9,"e":0.6},{"p":"Q100","s":"SMA","x":1000,"y":23.7,"e":0.6}
],
"fit": [
{"p":"Q6","s":"LEN","x":33.3,"y":23},{"p":"Q6","s":"LEN","x":66.7,"y":21.5},{"p":"Q6","s":"LEN","x":100,"y":20.5},{"p":"Q6","s":"LEN","x":150,"y":19.9},{"p":"Q6","s":"LEN","x":200,"y":19.5},{"p":"Q6","s":"LEN","x":300,"y":19.1},{"p":"Q6","s":"LEN","x":400,"y":18.9},{"p":"Q6","s":"LEN","x":600,"y":18.7},{"p":"Q6","s":"LEN","x":1000,"y":18.5},
{"p":"Q6","s":"S29N","x":33.3,"y":25},{"p":"Q6","s":"S29N","x":66.7,"y":22.8},{"p":"Q6","s":"S29N","x":100,"y":21},{"p":"Q6","s":"S29N","x":150,"y":19.8},{"p":"Q6","s":"S29N","x":200,"y":19.3},{"p":"Q6","s":"S29N","x":300,"y":18.8},{"p":"Q6","s":"S29N","x":400,"y":18.5},{"p":"Q6","s":"S29N","x":600,"y":18.3},{"p":"Q6","s":"S29N","x":1000,"y":18.2},
{"p":"Q6","s":"Y96Q","x":33.3,"y":84},{"p":"Q6","s":"Y96Q","x":66.7,"y":79},{"p":"Q6","s":"Y96Q","x":100,"y":72.5},{"p":"Q6","s":"Y96Q","x":133.3,"y":62},{"p":"Q6","s":"Y96Q","x":166.7,"y":51},{"p":"Q6","s":"Y96Q","x":200,"y":45},{"p":"Q6","s":"Y96Q","x":266.7,"y":37},{"p":"Q6","s":"Y96Q","x":333.3,"y":33},{"p":"Q6","s":"Y96Q","x":400,"y":29.8},{"p":"Q6","s":"Y96Q","x":500,"y":27},{"p":"Q6","s":"Y96Q","x":600,"y":25.3},{"p":"Q6","s":"Y96Q","x":700,"y":24},{"p":"Q6","s":"Y96Q","x":800,"y":23},{"p":"Q6","s":"Y96Q","x":900,"y":22.3},{"p":"Q6","s":"Y96Q","x":1000,"y":21.8},
{"p":"Q6","s":"K30R","x":33.3,"y":23.3},{"p":"Q6","s":"K30R","x":66.7,"y":22},{"p":"Q6","s":"K30R","x":100,"y":20.8},{"p":"Q6","s":"K30R","x":150,"y":20},{"p":"Q6","s":"K30R","x":200,"y":19.7},{"p":"Q6","s":"K30R","x":300,"y":19.4},{"p":"Q6","s":"K30R","x":400,"y":19.3},{"p":"Q6","s":"K30R","x":600,"y":19.1},{"p":"Q6","s":"K30R","x":1000,"y":18.9},
{"p":"Q6","s":"T94H","x":33.3,"y":24.6},{"p":"Q6","s":"T94H","x":100,"y":23.9},{"p":"Q6","s":"T94H","x":200,"y":23.4},{"p":"Q6","s":"T94H","x":400,"y":23},{"p":"Q6","s":"T94H","x":600,"y":22.6},{"p":"Q6","s":"T94H","x":1000,"y":21.8},
{"p":"Q6","s":"P40L","x":33.3,"y":23.2},{"p":"Q6","s":"P40L","x":66.7,"y":21.8},{"p":"Q6","s":"P40L","x":100,"y":20.6},{"p":"Q6","s":"P40L","x":150,"y":19.7},{"p":"Q6","s":"P40L","x":200,"y":19.3},{"p":"Q6","s":"P40L","x":300,"y":19},{"p":"Q6","s":"P40L","x":400,"y":18.9},{"p":"Q6","s":"P40L","x":600,"y":18.8},{"p":"Q6","s":"P40L","x":1000,"y":18.6},
{"p":"Q6","s":"S97T","x":33.3,"y":22},{"p":"Q6","s":"S97T","x":66.7,"y":20.8},{"p":"Q6","s":"S97T","x":100,"y":19.6},{"p":"Q6","s":"S97T","x":150,"y":19},{"p":"Q6","s":"S97T","x":200,"y":18.8},{"p":"Q6","s":"S97T","x":300,"y":18.6},{"p":"Q6","s":"S97T","x":400,"y":18.4},{"p":"Q6","s":"S97T","x":600,"y":18.3},{"p":"Q6","s":"S97T","x":1000,"y":18.1},
{"p":"Q6","s":"Q89H","x":33.3,"y":31.5},{"p":"Q6","s":"Q89H","x":66.7,"y":28.5},{"p":"Q6","s":"Q89H","x":100,"y":26},{"p":"Q6","s":"Q89H","x":150,"y":23.5},{"p":"Q6","s":"Q89H","x":200,"y":22.2},{"p":"Q6","s":"Q89H","x":300,"y":21},{"p":"Q6","s":"Q89H","x":400,"y":20.6},{"p":"Q6","s":"Q89H","x":600,"y":20.2},{"p":"Q6","s":"Q89H","x":1000,"y":20},
{"p":"Q6","s":"I106L","x":33.3,"y":25.2},{"p":"Q6","s":"I106L","x":66.7,"y":23},{"p":"Q6","s":"I106L","x":100,"y":21},{"p":"Q6","s":"I106L","x":150,"y":19.6},{"p":"Q6","s":"I106L","x":200,"y":19},{"p":"Q6","s":"I106L","x":300,"y":18.5},{"p":"Q6","s":"I106L","x":400,"y":18.2},{"p":"Q6","s":"I106L","x":600,"y":18},{"p":"Q6","s":"I106L","x":1000,"y":17.9},
{"p":"Q6","s":"SMA","x":33.3,"y":32.8},{"p":"Q6","s":"SMA","x":100,"y":31.6},{"p":"Q6","s":"SMA","x":200,"y":30.2},{"p":"Q6","s":"SMA","x":300,"y":29},{"p":"Q6","s":"SMA","x":400,"y":28},{"p":"Q6","s":"SMA","x":500,"y":27.1},{"p":"Q6","s":"SMA","x":600,"y":26.4},{"p":"Q6","s":"SMA","x":800,"y":25.6},{"p":"Q6","s":"SMA","x":1000,"y":25.2},

{"p":"Q42","s":"LEN","x":33.3,"y":27.3},{"p":"Q42","s":"LEN","x":66.7,"y":26},{"p":"Q42","s":"LEN","x":100,"y":24.6},{"p":"Q42","s":"LEN","x":150,"y":23},{"p":"Q42","s":"LEN","x":200,"y":22},{"p":"Q42","s":"LEN","x":300,"y":20.9},{"p":"Q42","s":"LEN","x":400,"y":20.4},{"p":"Q42","s":"LEN","x":600,"y":20.2},{"p":"Q42","s":"LEN","x":1000,"y":20.1},
{"p":"Q42","s":"S29N","x":33.3,"y":28},{"p":"Q42","s":"S29N","x":66.7,"y":27},{"p":"Q42","s":"S29N","x":100,"y":25.5},{"p":"Q42","s":"S29N","x":150,"y":23.3},{"p":"Q42","s":"S29N","x":200,"y":22},{"p":"Q42","s":"S29N","x":300,"y":20.6},{"p":"Q42","s":"S29N","x":400,"y":20},{"p":"Q42","s":"S29N","x":600,"y":19.7},{"p":"Q42","s":"S29N","x":1000,"y":19.6},
{"p":"Q42","s":"Y96Q","x":33.3,"y":26.5},{"p":"Q42","s":"Y96Q","x":100,"y":24.4},{"p":"Q42","s":"Y96Q","x":150,"y":22.6},{"p":"Q42","s":"Y96Q","x":200,"y":21.5},{"p":"Q42","s":"Y96Q","x":300,"y":20.3},{"p":"Q42","s":"Y96Q","x":400,"y":19.8},{"p":"Q42","s":"Y96Q","x":600,"y":19.5},{"p":"Q42","s":"Y96Q","x":1000,"y":19.3},
{"p":"Q42","s":"K30R","x":33.3,"y":25.3},{"p":"Q42","s":"K30R","x":66.7,"y":24.6},{"p":"Q42","s":"K30R","x":100,"y":23.5},{"p":"Q42","s":"K30R","x":150,"y":22.2},{"p":"Q42","s":"K30R","x":200,"y":21.4},{"p":"Q42","s":"K30R","x":300,"y":20.6},{"p":"Q42","s":"K30R","x":400,"y":20.3},{"p":"Q42","s":"K30R","x":600,"y":20.1},{"p":"Q42","s":"K30R","x":1000,"y":20.1},
{"p":"Q42","s":"T94H","x":33.3,"y":19},{"p":"Q42","s":"T94H","x":200,"y":19},{"p":"Q42","s":"T94H","x":400,"y":19.1},{"p":"Q42","s":"T94H","x":600,"y":19.3},{"p":"Q42","s":"T94H","x":1000,"y":19.8},
{"p":"Q42","s":"P40L","x":33.3,"y":27},{"p":"Q42","s":"P40L","x":66.7,"y":26},{"p":"Q42","s":"P40L","x":100,"y":24.8},{"p":"Q42","s":"P40L","x":150,"y":23},{"p":"Q42","s":"P40L","x":200,"y":21.9},{"p":"Q42","s":"P40L","x":300,"y":20.4},{"p":"Q42","s":"P40L","x":400,"y":19.8},{"p":"Q42","s":"P40L","x":600,"y":19.5},{"p":"Q42","s":"P40L","x":1000,"y":19.5},
{"p":"Q42","s":"S97T","x":33.3,"y":22.8},{"p":"Q42","s":"S97T","x":100,"y":22.2},{"p":"Q42","s":"S97T","x":200,"y":21.2},{"p":"Q42","s":"S97T","x":300,"y":20.7},{"p":"Q42","s":"S97T","x":400,"y":20.4},{"p":"Q42","s":"S97T","x":600,"y":20.2},{"p":"Q42","s":"S97T","x":1000,"y":20},
{"p":"Q42","s":"Q89H","x":33.3,"y":33},{"p":"Q42","s":"Q89H","x":66.7,"y":31.5},{"p":"Q42","s":"Q89H","x":100,"y":28.8},{"p":"Q42","s":"Q89H","x":133.3,"y":26.4},{"p":"Q42","s":"Q89H","x":166.7,"y":24.8},{"p":"Q42","s":"Q89H","x":200,"y":23.8},{"p":"Q42","s":"Q89H","x":266.7,"y":22.8},{"p":"Q42","s":"Q89H","x":333.3,"y":22.4},{"p":"Q42","s":"Q89H","x":400,"y":22.2},{"p":"Q42","s":"Q89H","x":600,"y":22},{"p":"Q42","s":"Q89H","x":1000,"y":22},
{"p":"Q42","s":"I106L","x":33.3,"y":26.8},{"p":"Q42","s":"I106L","x":66.7,"y":25.8},{"p":"Q42","s":"I106L","x":100,"y":24.4},{"p":"Q42","s":"I106L","x":150,"y":22.5},{"p":"Q42","s":"I106L","x":200,"y":21.3},{"p":"Q42","s":"I106L","x":300,"y":20.2},{"p":"Q42","s":"I106L","x":400,"y":19.7},{"p":"Q42","s":"I106L","x":600,"y":19.4},{"p":"Q42","s":"I106L","x":1000,"y":19.2},
{"p":"Q42","s":"SMA","x":33.3,"y":23.4},{"p":"Q42","s":"SMA","x":100,"y":22.7},{"p":"Q42","s":"SMA","x":200,"y":22.2},{"p":"Q42","s":"SMA","x":300,"y":21.8},{"p":"Q42","s":"SMA","x":400,"y":21.6},{"p":"Q42","s":"SMA","x":600,"y":21.4},{"p":"Q42","s":"SMA","x":1000,"y":21.3},

{"p":"T53","s":"LEN","x":33.3,"y":20.6},{"p":"T53","s":"LEN","x":200,"y":20.1},{"p":"T53","s":"LEN","x":400,"y":20},{"p":"T53","s":"LEN","x":1000,"y":20},
{"p":"T53","s":"S29N","x":33.3,"y":20.8},{"p":"T53","s":"S29N","x":200,"y":19.9},{"p":"T53","s":"S29N","x":400,"y":19.6},{"p":"T53","s":"S29N","x":1000,"y":19.5},
{"p":"T53","s":"Y96Q","x":33.3,"y":27.5},{"p":"T53","s":"Y96Q","x":66.7,"y":24.5},{"p":"T53","s":"Y96Q","x":100,"y":22.6},{"p":"T53","s":"Y96Q","x":150,"y":21},{"p":"T53","s":"Y96Q","x":200,"y":20.1},{"p":"T53","s":"Y96Q","x":300,"y":19.5},{"p":"T53","s":"Y96Q","x":400,"y":19.3},{"p":"T53","s":"Y96Q","x":600,"y":19.2},{"p":"T53","s":"Y96Q","x":1000,"y":19.2},
{"p":"T53","s":"K30R","x":33.3,"y":20.6},{"p":"T53","s":"K30R","x":200,"y":20},{"p":"T53","s":"K30R","x":400,"y":19.8},{"p":"T53","s":"K30R","x":1000,"y":19.8},
{"p":"T53","s":"T94H","x":33.3,"y":21.8},{"p":"T53","s":"T94H","x":100,"y":21.3},{"p":"T53","s":"T94H","x":200,"y":21},{"p":"T53","s":"T94H","x":400,"y":20.9},{"p":"T53","s":"T94H","x":1000,"y":21.1},
{"p":"T53","s":"P40L","x":33.3,"y":20.3},{"p":"T53","s":"P40L","x":200,"y":19.4},{"p":"T53","s":"P40L","x":400,"y":19.1},{"p":"T53","s":"P40L","x":1000,"y":19},
{"p":"T53","s":"S97T","x":33.3,"y":21},{"p":"T53","s":"S97T","x":200,"y":20.2},{"p":"T53","s":"S97T","x":400,"y":20},{"p":"T53","s":"S97T","x":1000,"y":20},
{"p":"T53","s":"Q89H","x":33.3,"y":24},{"p":"T53","s":"Q89H","x":66.7,"y":22.4},{"p":"T53","s":"Q89H","x":100,"y":21.2},{"p":"T53","s":"Q89H","x":150,"y":20.3},{"p":"T53","s":"Q89H","x":200,"y":19.9},{"p":"T53","s":"Q89H","x":300,"y":19.7},{"p":"T53","s":"Q89H","x":400,"y":19.6},{"p":"T53","s":"Q89H","x":600,"y":19.5},{"p":"T53","s":"Q89H","x":1000,"y":19.5},
{"p":"T53","s":"I106L","x":33.3,"y":20.8},{"p":"T53","s":"I106L","x":200,"y":19.6},{"p":"T53","s":"I106L","x":400,"y":19.3},{"p":"T53","s":"I106L","x":1000,"y":19.2},
{"p":"T53","s":"SMA","x":33.3,"y":25.5},{"p":"T53","s":"SMA","x":66.7,"y":24.4},{"p":"T53","s":"SMA","x":100,"y":23.4},{"p":"T53","s":"SMA","x":150,"y":22.2},{"p":"T53","s":"SMA","x":200,"y":21.3},{"p":"T53","s":"SMA","x":300,"y":20.4},{"p":"T53","s":"SMA","x":400,"y":20.1},{"p":"T53","s":"SMA","x":600,"y":19.9},{"p":"T53","s":"SMA","x":1000,"y":19.9},

{"p":"Q100","s":"LEN","x":33.3,"y":26.8},{"p":"Q100","s":"LEN","x":66.7,"y":26.8},{"p":"Q100","s":"LEN","x":100,"y":26.3},{"p":"Q100","s":"LEN","x":133.3,"y":25.2},{"p":"Q100","s":"LEN","x":166.7,"y":24.1},{"p":"Q100","s":"LEN","x":200,"y":23.3},{"p":"Q100","s":"LEN","x":266.7,"y":22.3},{"p":"Q100","s":"LEN","x":333.3,"y":21.8},{"p":"Q100","s":"LEN","x":400,"y":21.5},{"p":"Q100","s":"LEN","x":600,"y":21.3},{"p":"Q100","s":"LEN","x":1000,"y":21.2},
{"p":"Q100","s":"S29N","x":33.3,"y":26.7},{"p":"Q100","s":"S29N","x":66.7,"y":26.6},{"p":"Q100","s":"S29N","x":100,"y":26},{"p":"Q100","s":"S29N","x":133.3,"y":24.8},{"p":"Q100","s":"S29N","x":166.7,"y":23.7},{"p":"Q100","s":"S29N","x":200,"y":22.8},{"p":"Q100","s":"S29N","x":266.7,"y":21.8},{"p":"Q100","s":"S29N","x":333.3,"y":21.3},{"p":"Q100","s":"S29N","x":400,"y":21.1},{"p":"Q100","s":"S29N","x":600,"y":21},{"p":"Q100","s":"S29N","x":1000,"y":20.9},
{"p":"Q100","s":"Y96Q","x":33.3,"y":21},{"p":"Q100","s":"Y96Q","x":200,"y":20.4},{"p":"Q100","s":"Y96Q","x":400,"y":20.2},{"p":"Q100","s":"Y96Q","x":1000,"y":20.2},
{"p":"Q100","s":"K30R","x":33.3,"y":25.7},{"p":"Q100","s":"K30R","x":66.7,"y":25.6},{"p":"Q100","s":"K30R","x":100,"y":25.2},{"p":"Q100","s":"K30R","x":133.3,"y":24.5},{"p":"Q100","s":"K30R","x":166.7,"y":23.7},{"p":"Q100","s":"K30R","x":200,"y":23},{"p":"Q100","s":"K30R","x":266.7,"y":22.2},{"p":"Q100","s":"K30R","x":333.3,"y":21.7},{"p":"Q100","s":"K30R","x":400,"y":21.5},{"p":"Q100","s":"K30R","x":600,"y":21.3},{"p":"Q100","s":"K30R","x":1000,"y":21.3},
{"p":"Q100","s":"T94H","x":33.3,"y":20.6},{"p":"Q100","s":"T94H","x":100,"y":20.3},{"p":"Q100","s":"T94H","x":200,"y":20.1},{"p":"Q100","s":"T94H","x":400,"y":20},{"p":"Q100","s":"T94H","x":1000,"y":19.9},
{"p":"Q100","s":"P40L","x":33.3,"y":23.1},{"p":"Q100","s":"P40L","x":66.7,"y":22.8},{"p":"Q100","s":"P40L","x":100,"y":22.3},{"p":"Q100","s":"P40L","x":133.3,"y":21.7},{"p":"Q100","s":"P40L","x":166.7,"y":21.2},{"p":"Q100","s":"P40L","x":200,"y":20.8},{"p":"Q100","s":"P40L","x":266.7,"y":20.4},{"p":"Q100","s":"P40L","x":333.3,"y":20.2},{"p":"Q100","s":"P40L","x":400,"y":20.1},{"p":"Q100","s":"P40L","x":600,"y":20},{"p":"Q100","s":"P40L","x":1000,"y":19.9},
{"p":"Q100","s":"S97T","x":33.3,"y":21.5},{"p":"Q100","s":"S97T","x":66.7,"y":21.4},{"p":"Q100","s":"S97T","x":100,"y":21.1},{"p":"Q100","s":"S97T","x":150,"y":20.6},{"p":"Q100","s":"S97T","x":200,"y":20.2},{"p":"Q100","s":"S97T","x":266.7,"y":19.9},{"p":"Q100","s":"S97T","x":333.3,"y":19.7},{"p":"Q100","s":"S97T","x":400,"y":19.6},{"p":"Q100","s":"S97T","x":600,"y":19.5},{"p":"Q100","s":"S97T","x":1000,"y":19.4},
{"p":"Q100","s":"Q89H","x":33.3,"y":35.5},{"p":"Q100","s":"Q89H","x":66.7,"y":33.5},{"p":"Q100","s":"Q89H","x":100,"y":31.5},{"p":"Q100","s":"Q89H","x":133.3,"y":29},{"p":"Q100","s":"Q89H","x":166.7,"y":26.6},{"p":"Q100","s":"Q89H","x":200,"y":25},{"p":"Q100","s":"Q89H","x":233.3,"y":23.6},{"p":"Q100","s":"Q89H","x":266.7,"y":22.8},{"p":"Q100","s":"Q89H","x":333.3,"y":22},{"p":"Q100","s":"Q89H","x":400,"y":21.5},{"p":"Q100","s":"Q89H","x":500,"y":21.1},{"p":"Q100","s":"Q89H","x":700,"y":20.3},{"p":"Q100","s":"Q89H","x":1000,"y":19.6},
{"p":"Q100","s":"I106L","x":33.3,"y":26.6},{"p":"Q100","s":"I106L","x":66.7,"y":26.2},{"p":"Q100","s":"I106L","x":100,"y":25.4},{"p":"Q100","s":"I106L","x":133.3,"y":24.4},{"p":"Q100","s":"I106L","x":166.7,"y":23.4},{"p":"Q100","s":"I106L","x":200,"y":22.6},{"p":"Q100","s":"I106L","x":266.7,"y":21.6},{"p":"Q100","s":"I106L","x":333.3,"y":21.1},{"p":"Q100","s":"I106L","x":400,"y":20.8},{"p":"Q100","s":"I106L","x":600,"y":20.6},{"p":"Q100","s":"I106L","x":1000,"y":20.5},
{"p":"Q100","s":"SMA","x":33.3,"y":40.8},{"p":"Q100","s":"SMA","x":66.7,"y":39.3},{"p":"Q100","s":"SMA","x":133.3,"y":36.9},{"p":"Q100","s":"SMA","x":200,"y":33.9},{"p":"Q100","s":"SMA","x":266.7,"y":31.5},{"p":"Q100","s":"SMA","x":333.3,"y":29.8},{"p":"Q100","s":"SMA","x":400,"y":28.5},{"p":"Q100","s":"SMA","x":500,"y":27},{"p":"Q100","s":"SMA","x":600,"y":26},{"p":"Q100","s":"SMA","x":700,"y":25.2},{"p":"Q100","s":"SMA","x":800,"y":24.6},{"p":"Q100","s":"SMA","x":900,"y":24.2},{"p":"Q100","s":"SMA","x":1000,"y":24}
]
},
"columns": 2,
"spacing": {"row": 42, "column": 38},
"bounds": "flush",
"resolve": {"scale": {"x": "independent", "y": "independent", "color": "independent"}, "axis": {"x": "independent", "y": "independent"}, "legend": {"color": "independent"}},
"concat": [
{
 "width": 278, "height": 186,
 "title": {"text": "Q6", "dx": -9, "dy": 38},
 "resolve": {"axis": {"x": "independent", "y": "independent"}},
 "layer": [
  {"data": {"name": "fit"}, "transform": [{"filter": "datum.p === 'Q6' && datum.s !== 'SMA'"}],
   "mark": {"type": "line", "strokeWidth": 1, "interpolate": "monotone"},
   "encoding": {
    "x": {"field": "x", "type": "quantitative", "scale": {"domain": [0, 1000], "nice": false, "zero": false}, "axis": {"orient": "bottom", "values": [50,100,150,200,250,300,350,400,450,500,550,600,650,700,750,800,850,900,950], "tickSize": 3, "labels": false, "domain": false, "title": null}},
    "y": {"field": "y", "type": "quantitative", "scale": {"domain": [15, 102.5], "nice": false, "zero": false}, "axis": {"orient": "left", "values": [15,25,30,35,45,50,55,65,70,75,85,90,95], "tickSize": 3, "labels": false, "domain": false, "title": null}},
    "color": {"field": "s", "type": "nominal", "scale": {"domain": ["LEN","S29N","K30R","P40L","Q89H","SMA","Y96Q","T94H","S97T","I106L"], "range": ["#000000","#ff0000","#22e622","#0000ff","#00ffff","#000000","#ff00ff","#ffff00","#ff5a00","#a52a2a"]}, "legend": null}}},
  {"data": {"name": "fit"}, "transform": [{"filter": "datum.p === 'Q6' && datum.s === 'SMA'"}],
   "mark": {"type": "line", "strokeWidth": 1, "strokeDash": [4, 3], "color": "#333333", "interpolate": "monotone"},
   "encoding": {
    "x": {"field": "x", "type": "quantitative", "scale": {"domain": [0, 1000], "nice": false, "zero": false}, "axis": null},
    "y": {"field": "y", "type": "quantitative", "scale": {"domain": [15, 102.5], "nice": false, "zero": false}, "axis": null}}},
  {"data": {"name": "pts"}, "transform": [{"filter": "datum.p === 'Q6' && isValid(datum.e)"}],
   "mark": {"type": "errorbar", "ticks": true, "thickness": 1},
   "encoding": {
    "x": {"field": "x", "type": "quantitative", "scale": {"domain": [0, 1000], "nice": false, "zero": false}, "axis": null},
    "y": {"field": "y", "type": "quantitative", "scale": {"domain": [15, 102.5], "nice": false, "zero": false}, "axis": null},
    "yError": {"field": "e"},
    "color": {"field": "s", "type": "nominal", "scale": {"domain": ["LEN","S29N","K30R","P40L","Q89H","SMA","Y96Q","T94H","S97T","I106L"], "range": ["#000000","#ff0000","#22e622","#0000ff","#00ffff","#000000","#ff00ff","#ffff00","#ff5a00","#a52a2a"]}, "legend": null}}},
  {"data": {"name": "pts"}, "transform": [{"filter": "datum.p === 'Q6' && datum.s !== 'SMA'"}],
   "mark": {"type": "point", "filled": true, "size": 34, "opacity": 1},
   "encoding": {
    "x": {"field": "x", "type": "quantitative", "scale": {"domain": [0, 1000], "nice": false, "zero": false}, "axis": {"orient": "bottom", "values": [0,200,400,600,800,1000], "tickSize": 5, "title": null}},
    "y": {"field": "y", "type": "quantitative", "scale": {"domain": [15, 102.5], "nice": false, "zero": false}, "axis": {"orient": "left", "values": [20,40,60,80,100], "tickSize": 5, "title": "(s⁻¹)", "titleFontSize": 25, "titleAngle": 270, "titleAlign": "left", "titleBaseline": "alphabetic", "titleX": -49, "titleY": 190}},
    "color": {"field": "s", "type": "nominal", "scale": {"domain": ["LEN","S29N","K30R","P40L","Q89H","SMA","Y96Q","T94H","S97T","I106L"], "range": ["#000000","#ff0000","#22e622","#0000ff","#00ffff","#000000","#ff00ff","#ffff00","#ff5a00","#a52a2a"]}, "legend": null}}},
  {"data": {"name": "pts"}, "transform": [{"filter": "datum.p === 'Q6' && datum.s === 'SMA'"}],
   "mark": {"type": "point", "filled": false, "size": 38, "strokeWidth": 1, "color": "#444444", "opacity": 1},
   "encoding": {
    "x": {"field": "x", "type": "quantitative", "scale": {"domain": [0, 1000], "nice": false, "zero": false}, "axis": null},
    "y": {"field": "y", "type": "quantitative", "scale": {"domain": [15, 102.5], "nice": false, "zero": false}, "axis": null}}}
 ]
},
{
 "width": 278, "height": 186,
 "title": {"text": "Q42", "dx": -11, "dy": 38},
 "resolve": {"axis": {"x": "independent", "y": "independent"}},
 "layer": [
  {"data": {"name": "fit"}, "transform": [{"filter": "datum.p === 'Q42' && datum.s !== 'SMA'"}],
   "mark": {"type": "line", "strokeWidth": 1, "interpolate": "monotone"},
   "encoding": {
    "x": {"field": "x", "type": "quantitative", "scale": {"domain": [0, 1000], "nice": false, "zero": false}, "axis": {"orient": "bottom", "values": [50,100,150,200,250,300,350,400,450,500,550,600,650,700,750,800,850,900,950], "tickSize": 3, "labels": false, "domain": false, "title": null}},
    "y": {"field": "y", "type": "quantitative", "scale": {"domain": [15, 45], "nice": false, "zero": false}, "axis": {"orient": "left", "values": [15,17.5,22.5,25,27.5,32.5,35,37.5,42.5,45], "tickSize": 3, "labels": false, "domain": false, "title": null}},
    "color": {"field": "s", "type": "nominal", "scale": {"domain": ["LEN","S29N","K30R","P40L","Q89H","SMA","Y96Q","T94H","S97T","I106L"], "range": ["#000000","#ff0000","#22e622","#0000ff","#00ffff","#000000","#ff00ff","#ffff00","#ff5a00","#a52a2a"]}, "legend": null}}},
  {"data": {"name": "fit"}, "transform": [{"filter": "datum.p === 'Q42' && datum.s === 'SMA'"}],
   "mark": {"type": "line", "strokeWidth": 1, "strokeDash": [4, 3], "color": "#333333", "interpolate": "monotone"},
   "encoding": {
    "x": {"field": "x", "type": "quantitative", "scale": {"domain": [0, 1000], "nice": false, "zero": false}, "axis": null},
    "y": {"field": "y", "type": "quantitative", "scale": {"domain": [15, 45], "nice": false, "zero": false}, "axis": null}}},
  {"data": {"name": "pts"}, "transform": [{"filter": "datum.p === 'Q42' && isValid(datum.e)"}],
   "mark": {"type": "errorbar", "ticks": true, "thickness": 1},
   "encoding": {
    "x": {"field": "x", "type": "quantitative", "scale": {"domain": [0, 1000], "nice": false, "zero": false}, "axis": null},
    "y": {"field": "y", "type": "quantitative", "scale": {"domain": [15, 45], "nice": false, "zero": false}, "axis": null},
    "yError": {"field": "e"},
    "color": {"field": "s", "type": "nominal", "scale": {"domain": ["LEN","S29N","K30R","P40L","Q89H","SMA","Y96Q","T94H","S97T","I106L"], "range": ["#000000","#ff0000","#22e622","#0000ff","#00ffff","#000000","#ff00ff","#ffff00","#ff5a00","#a52a2a"]}, "legend": null}}},
  {"data": {"name": "pts"}, "transform": [{"filter": "datum.p === 'Q42' && datum.s !== 'SMA'"}],
   "mark": {"type": "point", "filled": true, "size": 34, "opacity": 1},
   "encoding": {
    "x": {"field": "x", "type": "quantitative", "scale": {"domain": [0, 1000], "nice": false, "zero": false}, "axis": {"orient": "bottom", "values": [0,200,400,600,800,1000], "tickSize": 5, "title": null}},
    "y": {"field": "y", "type": "quantitative", "scale": {"domain": [15, 45], "nice": false, "zero": false}, "axis": {"orient": "left", "values": [20,30,40], "tickSize": 5, "title": null}},
    "color": {"field": "s", "type": "nominal", "scale": {"domain": ["LEN","S29N","K30R","P40L","Q89H","SMA","Y96Q","T94H","S97T","I106L"], "range": ["#000000","#ff0000","#22e622","#0000ff","#00ffff","#000000","#ff00ff","#ffff00","#ff5a00","#a52a2a"]}, "legend": null}}},
  {"data": {"name": "pts"}, "transform": [{"filter": "datum.p === 'Q42' && datum.s === 'SMA'"}],
   "mark": {"type": "point", "filled": false, "size": 38, "strokeWidth": 1, "color": "#444444", "opacity": 1},
   "encoding": {
    "x": {"field": "x", "type": "quantitative", "scale": {"domain": [0, 1000], "nice": false, "zero": false}, "axis": null},
    "y": {"field": "y", "type": "quantitative", "scale": {"domain": [15, 45], "nice": false, "zero": false}, "axis": null}}}
 ]
},
{
 "width": 278, "height": 184,
 "title": {"text": "T53", "dx": -9, "dy": 32},
 "resolve": {"axis": {"x": "independent", "y": "independent"}},
 "layer": [
  {"data": {"name": "fit"}, "transform": [{"filter": "datum.p === 'T53' && datum.s !== 'SMA'"}],
   "mark": {"type": "line", "strokeWidth": 1, "interpolate": "monotone"},
   "encoding": {
    "x": {"field": "x", "type": "quantitative", "scale": {"domain": [0, 1000], "nice": false, "zero": false}, "axis": {"orient": "bottom", "values": [50,100,150,200,250,300,350,400,450,500,550,600,650,700,750,800,850,900,950], "tickSize": 3, "labels": false, "domain": false, "title": "CPMG", "titleFontSize": 14, "titleAlign": "left", "titleBaseline": "alphabetic", "titleX": 252, "titleY": 62}},
    "y": {"field": "y", "type": "quantitative", "scale": {"domain": [15, 45], "nice": false, "zero": false}, "axis": {"orient": "left", "values": [15,17.5,22.5,25,27.5,32.5,35,37.5,42.5,45], "tickSize": 3, "labels": false, "domain": false, "title": "2,eff", "titleFontSize": 17, "titleAngle": 270, "titleAlign": "left", "titleBaseline": "alphabetic", "titleX": -40, "titleY": 54}},
    "color": {"field": "s", "type": "nominal", "scale": {"domain": ["LEN","S29N","K30R","P40L","Q89H","SMA","Y96Q","T94H","S97T","I106L"], "range": ["#000000","#ff0000","#22e622","#0000ff","#00ffff","#000000","#ff00ff","#ffff00","#ff5a00","#a52a2a"]},
     "legend": {"orient": "none", "legendX": 7, "legendY": 2, "columns": 2, "title": null, "direction": "vertical",
      "symbolType": "M-2.3,0H2.3M-2.3,-0.6V0.6M2.3,-0.6V0.6M-0.65,0A0.65,0.65 0 1,1 0.65,0A0.65,0.65 0 1,1 -0.65,0Z",
      "symbolSize": 100, "symbolStrokeWidth": 1.3, "symbolOpacity": 1, "symbolOffset": 8,
      "labelFontSize": 13, "labelFont": "Liberation Sans", "labelColor": "#000", "labelOffset": 11,
      "rowPadding": 5, "columnPadding": 0,
      "encode": {"symbols": {"update": {
        "shape": {"signal": "datum.value === 'SMA' ? 'M-2.3,0H-1.9M-1.5,0H-1.1M1.1,0H1.5M1.9,0H2.3M-2.3,-0.6V0.6M2.3,-0.6V0.6M-0.75,0A0.75,0.75 0 1,1 0.75,0A0.75,0.75 0 1,1 -0.75,0Z' : 'M-2.3,0H2.3M-2.3,-0.6V0.6M2.3,-0.6V0.6M-0.65,0A0.65,0.65 0 1,1 0.65,0A0.65,0.65 0 1,1 -0.65,0Z'"},
        "fill": {"signal": "datum.value === 'SMA' ? '#ffffff' : ({'LEN':'#000000','SMA':'#000000','S29N':'#ff0000','Y96Q':'#ff00ff','K30R':'#22e622','T94H':'#ffff00','P40L':'#0000ff','S97T':'#ff5a00','Q89H':'#00ffff','I106L':'#a52a2a'})[datum.value]"},
        "fillOpacity": {"signal": "datum.value === 'SMA' ? 0 : 1"},
        "stroke": {"signal": "({'LEN':'#000000','SMA':'#333333','S29N':'#ff0000','Y96Q':'#ff00ff','K30R':'#22e622','T94H':'#ffff00','P40L':'#0000ff','S97T':'#ff5a00','Q89H':'#00ffff','I106L':'#a52a2a'})[datum.value]"},
        "strokeWidth": {"value": 1.2},
        "opacity": {"value": 1}
      }}}}}}},
  {"data": {"name": "fit"}, "transform": [{"filter": "datum.p === 'T53' && datum.s === 'SMA'"}],
   "mark": {"type": "line", "strokeWidth": 1, "strokeDash": [4, 3], "color": "#333333", "interpolate": "monotone"},
   "encoding": {
    "x": {"field": "x", "type": "quantitative", "scale": {"domain": [0, 1000], "nice": false, "zero": false}, "axis": null},
    "y": {"field": "y", "type": "quantitative", "scale": {"domain": [15, 45], "nice": false, "zero": false}, "axis": null}}},
  {"data": {"name": "pts"}, "transform": [{"filter": "datum.p === 'T53' && isValid(datum.e)"}],
   "mark": {"type": "errorbar", "ticks": true, "thickness": 1},
   "encoding": {
    "x": {"field": "x", "type": "quantitative", "scale": {"domain": [0, 1000], "nice": false, "zero": false}, "axis": null},
    "y": {"field": "y", "type": "quantitative", "scale": {"domain": [15, 45], "nice": false, "zero": false}, "axis": null},
    "yError": {"field": "e"},
    "color": {"field": "s", "type": "nominal", "scale": {"domain": ["LEN","S29N","K30R","P40L","Q89H","SMA","Y96Q","T94H","S97T","I106L"], "range": ["#000000","#ff0000","#22e622","#0000ff","#00ffff","#000000","#ff00ff","#ffff00","#ff5a00","#a52a2a"]},
     "legend": {"orient": "none", "legendX": 7, "legendY": 2, "columns": 2, "title": null, "direction": "vertical",
      "symbolType": "M-2.3,0H2.3M-2.3,-0.6V0.6M2.3,-0.6V0.6M-0.65,0A0.65,0.65 0 1,1 0.65,0A0.65,0.65 0 1,1 -0.65,0Z",
      "symbolSize": 100, "symbolStrokeWidth": 1.3, "symbolOpacity": 1, "symbolOffset": 8,
      "labelFontSize": 13, "labelFont": "Liberation Sans", "labelColor": "#000", "labelOffset": 11,
      "rowPadding": 5, "columnPadding": 0,
      "encode": {"symbols": {"update": {
        "shape": {"signal": "datum.value === 'SMA' ? 'M-2.3,0H-1.9M-1.5,0H-1.1M1.1,0H1.5M1.9,0H2.3M-2.3,-0.6V0.6M2.3,-0.6V0.6M-0.75,0A0.75,0.75 0 1,1 0.75,0A0.75,0.75 0 1,1 -0.75,0Z' : 'M-2.3,0H2.3M-2.3,-0.6V0.6M2.3,-0.6V0.6M-0.65,0A0.65,0.65 0 1,1 0.65,0A0.65,0.65 0 1,1 -0.65,0Z'"},
        "fill": {"signal": "datum.value === 'SMA' ? '#ffffff' : ({'LEN':'#000000','SMA':'#000000','S29N':'#ff0000','Y96Q':'#ff00ff','K30R':'#22e622','T94H':'#ffff00','P40L':'#0000ff','S97T':'#ff5a00','Q89H':'#00ffff','I106L':'#a52a2a'})[datum.value]"},
        "fillOpacity": {"signal": "datum.value === 'SMA' ? 0 : 1"},
        "stroke": {"signal": "({'LEN':'#000000','SMA':'#333333','S29N':'#ff0000','Y96Q':'#ff00ff','K30R':'#22e622','T94H':'#ffff00','P40L':'#0000ff','S97T':'#ff5a00','Q89H':'#00ffff','I106L':'#a52a2a'})[datum.value]"},
        "strokeWidth": {"value": 1.2},
        "opacity": {"value": 1}
      }}}}}}},
  {"data": {"name": "pts"}, "transform": [{"filter": "datum.p === 'T53' && datum.s !== 'SMA'"}],
   "mark": {"type": "point", "filled": true, "size": 34, "opacity": 1},
   "encoding": {
    "x": {"field": "x", "type": "quantitative", "scale": {"domain": [0, 1000], "nice": false, "zero": false}, "axis": {"orient": "bottom", "values": [0,200,400,600,800,1000], "tickSize": 5, "title": "ν", "titleFontSize": 26, "titleAlign": "center", "titleBaseline": "alphabetic", "titleX": 249, "titleY": 51}},
    "y": {"field": "y", "type": "quantitative", "scale": {"domain": [15, 45], "nice": false, "zero": false}, "axis": {"orient": "left", "values": [20,30,40], "tickSize": 5, "title": "R", "titleFontSize": 26, "titleAngle": 270, "titleAlign": "left", "titleBaseline": "alphabetic", "titleX": -49, "titleY": 72}},
    "color": {"field": "s", "type": "nominal", "scale": {"domain": ["LEN","S29N","K30R","P40L","Q89H","SMA","Y96Q","T94H","S97T","I106L"], "range": ["#000000","#ff0000","#22e622","#0000ff","#00ffff","#000000","#ff00ff","#ffff00","#ff5a00","#a52a2a"]},
     "legend": {"orient": "none", "legendX": 7, "legendY": 2, "columns": 2, "title": null, "direction": "vertical",
      "symbolType": "M-2.3,0H2.3M-2.3,-0.6V0.6M2.3,-0.6V0.6M-0.65,0A0.65,0.65 0 1,1 0.65,0A0.65,0.65 0 1,1 -0.65,0Z",
      "symbolSize": 100, "symbolStrokeWidth": 1.3, "symbolOpacity": 1, "symbolOffset": 8,
      "labelFontSize": 13, "labelFont": "Liberation Sans", "labelColor": "#000", "labelOffset": 11,
      "rowPadding": 5, "columnPadding": 0,
      "encode": {"symbols": {"update": {
        "shape": {"signal": "datum.value === 'SMA' ? 'M-2.3,0H-1.9M-1.5,0H-1.1M1.1,0H1.5M1.9,0H2.3M-2.3,-0.6V0.6M2.3,-0.6V0.6M-0.75,0A0.75,0.75 0 1,1 0.75,0A0.75,0.75 0 1,1 -0.75,0Z' : 'M-2.3,0H2.3M-2.3,-0.6V0.6M2.3,-0.6V0.6M-0.65,0A0.65,0.65 0 1,1 0.65,0A0.65,0.65 0 1,1 -0.65,0Z'"},
        "fill": {"signal": "datum.value === 'SMA' ? '#ffffff' : ({'LEN':'#000000','SMA':'#000000','S29N':'#ff0000','Y96Q':'#ff00ff','K30R':'#22e622','T94H':'#ffff00','P40L':'#0000ff','S97T':'#ff5a00','Q89H':'#00ffff','I106L':'#a52a2a'})[datum.value]"},
        "fillOpacity": {"signal": "datum.value === 'SMA' ? 0 : 1"},
        "stroke": {"signal": "({'LEN':'#000000','SMA':'#333333','S29N':'#ff0000','Y96Q':'#ff00ff','K30R':'#22e622','T94H':'#ffff00','P40L':'#0000ff','S97T':'#ff5a00','Q89H':'#00ffff','I106L':'#a52a2a'})[datum.value]"},
        "strokeWidth": {"value": 1.2},
        "opacity": {"value": 1}
      }}}}}}},
  {"data": {"name": "pts"}, "transform": [{"filter": "datum.p === 'T53' && datum.s === 'SMA'"}],
   "mark": {"type": "point", "filled": false, "size": 38, "strokeWidth": 1, "color": "#444444", "opacity": 1},
   "encoding": {
    "x": {"field": "x", "type": "quantitative", "scale": {"domain": [0, 1000], "nice": false, "zero": false}, "axis": null},
    "y": {"field": "y", "type": "quantitative", "scale": {"domain": [15, 45], "nice": false, "zero": false}, "axis": null}}}
 ]
},
{
 "width": 278, "height": 184,
 "title": {"text": "Q100", "dx": -10, "dy": 32},
 "resolve": {"axis": {"x": "independent", "y": "independent"}},
 "layer": [
  {"data": {"name": "fit"}, "transform": [{"filter": "datum.p === 'Q100' && datum.s !== 'SMA'"}],
   "mark": {"type": "line", "strokeWidth": 1, "interpolate": "monotone"},
   "encoding": {
    "x": {"field": "x", "type": "quantitative", "scale": {"domain": [0, 1000], "nice": false, "zero": false}, "axis": {"orient": "bottom", "values": [50,100,150,200,250,300,350,400,450,500,550,600,650,700,750,800,850,900,950], "tickSize": 3, "labels": false, "domain": false, "title": null}},
    "y": {"field": "y", "type": "quantitative", "scale": {"domain": [15, 45], "nice": false, "zero": false}, "axis": {"orient": "left", "values": [15,17.5,22.5,25,27.5,32.5,35,37.5,42.5,45], "tickSize": 3, "labels": false, "domain": false, "title": null}},
    "color": {"field": "s", "type": "nominal", "scale": {"domain": ["LEN","S29N","K30R","P40L","Q89H","SMA","Y96Q","T94H","S97T","I106L"], "range": ["#000000","#ff0000","#22e622","#0000ff","#00ffff","#000000","#ff00ff","#ffff00","#ff5a00","#a52a2a"]}, "legend": null}}},
  {"data": {"name": "fit"}, "transform": [{"filter": "datum.p === 'Q100' && datum.s === 'SMA'"}],
   "mark": {"type": "line", "strokeWidth": 1, "strokeDash": [4, 3], "color": "#333333", "interpolate": "monotone"},
   "encoding": {
    "x": {"field": "x", "type": "quantitative", "scale": {"domain": [0, 1000], "nice": false, "zero": false}, "axis": null},
    "y": {"field": "y", "type": "quantitative", "scale": {"domain": [15, 45], "nice": false, "zero": false}, "axis": null}}},
  {"data": {"name": "pts"}, "transform": [{"filter": "datum.p === 'Q100' && isValid(datum.e)"}],
   "mark": {"type": "errorbar", "ticks": true, "thickness": 1},
   "encoding": {
    "x": {"field": "x", "type": "quantitative", "scale": {"domain": [0, 1000], "nice": false, "zero": false}, "axis": null},
    "y": {"field": "y", "type": "quantitative", "scale": {"domain": [15, 45], "nice": false, "zero": false}, "axis": null},
    "yError": {"field": "e"},
    "color": {"field": "s", "type": "nominal", "scale": {"domain": ["LEN","S29N","K30R","P40L","Q89H","SMA","Y96Q","T94H","S97T","I106L"], "range": ["#000000","#ff0000","#22e622","#0000ff","#00ffff","#000000","#ff00ff","#ffff00","#ff5a00","#a52a2a"]}, "legend": null}}},
  {"data": {"name": "pts"}, "transform": [{"filter": "datum.p === 'Q100' && datum.s !== 'SMA'"}],
   "mark": {"type": "point", "filled": true, "size": 34, "opacity": 1},
   "encoding": {
    "x": {"field": "x", "type": "quantitative", "scale": {"domain": [0, 1000], "nice": false, "zero": false}, "axis": {"orient": "bottom", "values": [0,200,400,600,800,1000], "tickSize": 5, "title": "(Hz)", "titleFontSize": 24, "titleAlign": "left", "titleBaseline": "alphabetic", "titleX": -6, "titleY": 56}},
    "y": {"field": "y", "type": "quantitative", "scale": {"domain": [15, 45], "nice": false, "zero": false}, "axis": {"orient": "left", "values": [20,30,40], "tickSize": 5, "title": null}},
    "color": {"field": "s", "type": "nominal", "scale": {"domain": ["LEN","S29N","K30R","P40L","Q89H","SMA","Y96Q","T94H","S97T","I106L"], "range": ["#000000","#ff0000","#22e622","#0000ff","#00ffff","#000000","#ff00ff","#ffff00","#ff5a00","#a52a2a"]}, "legend": null}}},
  {"data": {"name": "pts"}, "transform": [{"filter": "datum.p === 'Q100' && datum.s === 'SMA'"}],
   "mark": {"type": "point", "filled": false, "size": 38, "strokeWidth": 1, "color": "#444444", "opacity": 1},
   "encoding": {
    "x": {"field": "x", "type": "quantitative", "scale": {"domain": [0, 1000], "nice": false, "zero": false}, "axis": null},
    "y": {"field": "y", "type": "quantitative", "scale": {"domain": [15, 45], "nice": false, "zero": false}, "axis": null}}}
 ]
}
]
}
